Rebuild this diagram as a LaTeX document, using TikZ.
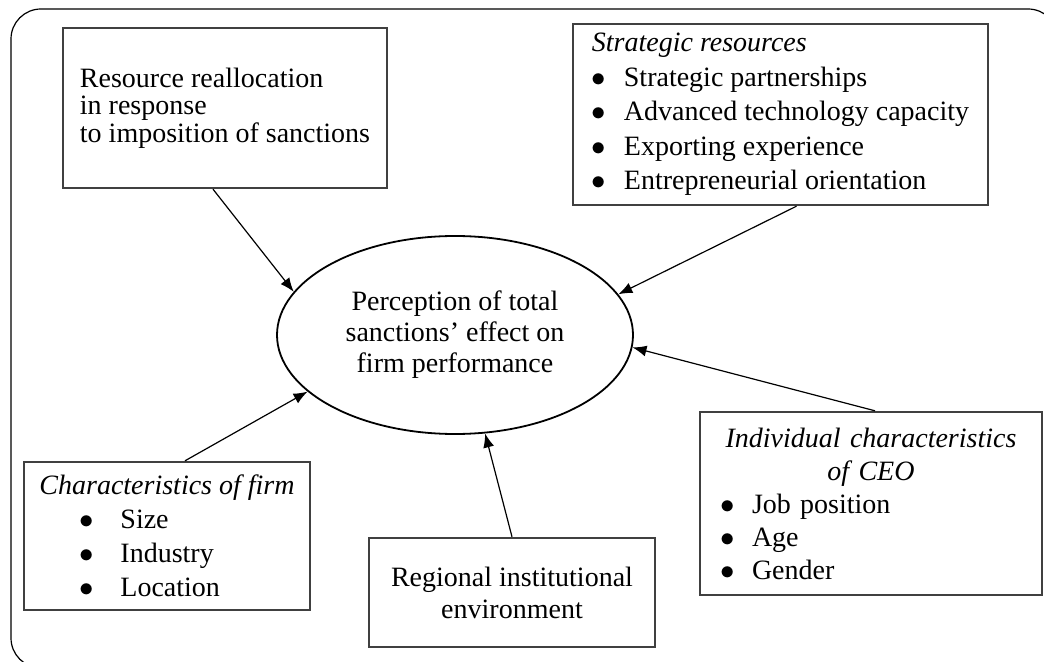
\documentclass[tikz,border=0pt]{standalone}
\usepackage{fontspec}
\setmainfont{Liberation Serif}
\usetikzlibrary{arrows.meta,shapes.geometric}
\newcommand{\itm}[1][16pt]{\makebox[#1][l]{$\bullet$}}
\tikzset{
  factor/.style={rectangle,draw=black!75,line width=1.2pt,align=left,inner sep=0pt},
  outcome/.style={ellipse,draw=black,line width=0.9pt,align=center,inner sep=0pt,
    minimum width=178pt,minimum height=99pt},
  link/.style={-{Latex[length=7pt,width=5.5pt]},line width=0.6pt,black},
  frame/.style={draw=black,line width=0.6pt,rounded corners=15pt}
}

\begin{document}
\begin{tikzpicture}[x=0.5pt,y=-0.5pt]
  \useasboundingbox (0,0) rectangle (1044,662);
  \begin{scope}
    \clip (0,0) rectangle (1044,662);
    \draw[frame] (11,9) rectangle (1058,668);
  \end{scope}
  \node[outcome,font=\fontsize{14}{15.5}\selectfont] (perc) at (455,335)
    {Perception of total\\ sanctions’ effect on\\ firm performance};
  \node[factor,minimum width=162pt,minimum height=80pt,
    font=\fontsize{14}{13.75}\selectfont] (realloc) at (225,108)
    {Resource reallocation\\ in response\\ to imposition of sanctions};
  \node[factor,minimum width=207.5pt,minimum height=90.5pt,
    font=\fontsize{14}{17.25}\selectfont] (stratres) at (780.5,114.5)
    {\textit{Strategic resources}\\ \itm Strategic partnerships\\
     \itm Advanced technology capacity\\ \itm Exporting experience\\
     \itm Entrepreneurial orientation};
  \node[factor,minimum width=143pt,minimum height=74pt,
    font=\fontsize{14}{17}\selectfont] (firmchar) at (167,536)
    {\textit{Characteristics of firm}\\ \hspace*{20pt}\itm[20.5pt]Size\\
     \hspace*{20pt}\itm[20.5pt]Industry\\ \hspace*{20pt}\itm[20.5pt]Location};
  \node[factor,minimum width=171pt,minimum height=91.5pt,text width=151pt,
    font=\fontsize{14}{16.5}\selectfont] (ceochar) at (871,503.5)
    {{\centering\itshape Individual characteristics\\ of CEO\par}
     \itm Job position\\ \itm Age\\ \itm Gender};
  \node[factor,align=center,minimum width=143pt,minimum height=54.5pt,
    font=\fontsize{14}{16}\selectfont] (regenv) at (512,592.5)
    {Regional institutional\\ environment};
  % arrows into the outcome
  \draw[link] ([xshift=-6pt]realloc.south) -- (perc.165);
  \draw[link] ([xshift=8pt]stratres.south) -- (perc.14);
  \draw[link] ([xshift=9pt]firmchar.north) -- (perc.201);
  \draw[link] (regenv.north) -- (perc.-73);
  \draw[link] ([xshift=2pt]ceochar.north) -- (perc.-4);
\end{tikzpicture}
\end{document}
